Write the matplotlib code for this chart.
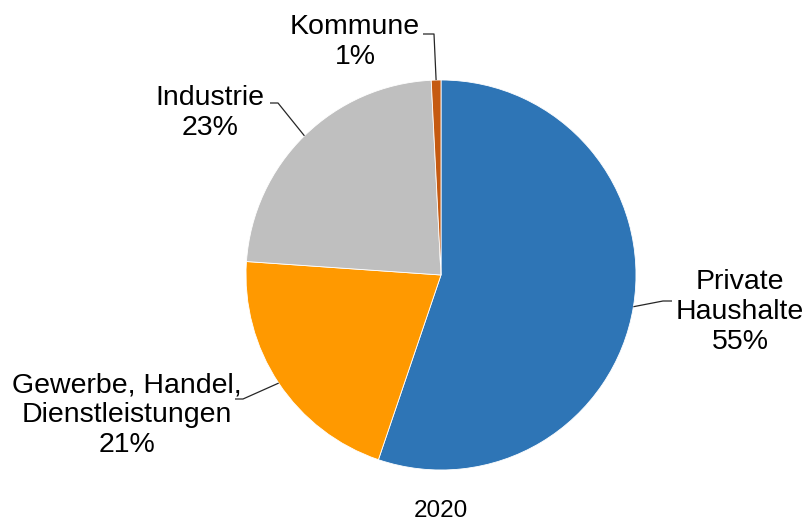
import numpy as np
import matplotlib
matplotlib.use("Agg")
import matplotlib.pyplot as plt

plt.rcParams['font.family'] = ['Liberation Sans', 'DejaVu Sans']

# data (shares in %)
sectors = ['Private\nHaushalte', 'Gewerbe, Handel,\nDienstleistungen', 'Industrie', 'Kommune']
shares = [55.2, 20.9, 23.1, 0.8]
share_labels = ['55%', '21%', '23%', '1%']
colors = ['#2E75B6', '#FF9900', '#BFBFBF', '#C55A11']
year = '2020'

W, H = 806, 525
fig = plt.figure(figsize=(W / 100, H / 100), dpi=100)
ax = fig.add_axes([0, 0, 1, 1])

cx, cy, r = 441, H - 275, 195
wedges, _ = ax.pie(shares, colors=colors, startangle=90, counterclock=False,
                   center=(cx, cy), radius=r,
                   wedgeprops=dict(edgecolor='white', linewidth=0.6))

ax.set_xlim(0, W)
ax.set_ylim(0, H)
ax.set_aspect('equal')
ax.axis('off')

# label positions (pixels from top-left) and leader elbows
label_pos = [(740, 312), (127, 415), (210, 113), (355, 42)]
elbows = [[(672, 301), (663, 301)],
          [(235, 399), (243, 399)],
          [(270, 103), (278, 103)],
          [(423, 34), (434, 34)]]

for w, name, pct, (tx, ty), elb in zip(wedges, sectors, share_labels, label_pos, elbows):
    mid = np.deg2rad((w.theta1 + w.theta2) / 2)
    ex, ey = cx + r * np.cos(mid), cy + r * np.sin(mid)
    xs = [p[0] for p in elb] + [ex]
    ys = [H - p[1] for p in elb] + [ey]
    ax.plot(xs, ys, color='#262626', lw=0.9, solid_capstyle='butt')
    ax.text(tx, H - ty, name + '\n' + pct, ha='center', va='center',
            fontsize=20.5, linespacing=1.18, color='black')

ax.text(cx, H - 511, year, ha='center', va='center', fontsize=17.5, color='black')

fig.savefig('out.png', dpi=100, facecolor='white')
